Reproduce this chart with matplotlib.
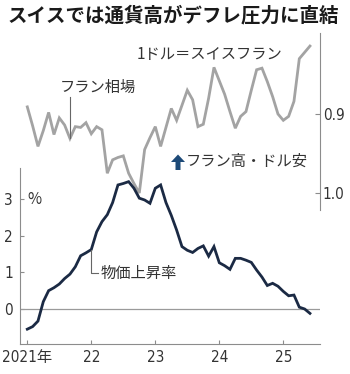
import matplotlib.pyplot as plt
import numpy as np
from matplotlib.patches import Polygon

plt.rcParams['font.family'] = ['Noto Sans CJK JP', 'DejaVu Sans']

W, H = 350, 374

# monthly, starting Jan 2021
cpi = [-0.55, -0.48, -0.33, 0.2, 0.5, 0.58, 0.68, 0.83, 0.95, 1.15, 1.45, 1.53,
       1.62, 2.1, 2.38, 2.57, 2.9, 3.38, 3.42, 3.47, 3.29, 3.02, 2.97, 2.88,
       3.29, 3.38, 2.9, 2.55, 2.15, 1.7, 1.6, 1.54, 1.65, 1.72, 1.44, 1.7,
       1.26, 1.18, 1.08, 1.38, 1.38, 1.33, 1.27, 1.06, 0.87, 0.64, 0.7, 0.62,
       0.48, 0.36, 0.38, 0.05, 0.0, -0.12]
usdchf = [0.891, 0.915, 0.941, 0.921, 0.898, 0.926, 0.905, 0.914, 0.931, 0.916, 0.917, 0.911,
          0.925, 0.916, 0.920, 0.975, 0.958, 0.955, 0.953, 0.975, 0.988, 1.000, 0.945, 0.930,
          0.916, 0.941, 0.917, 0.893, 0.908, 0.889, 0.870, 0.882, 0.916, 0.913, 0.880, 0.841,
          0.858, 0.875, 0.897, 0.918, 0.903, 0.897, 0.870, 0.844, 0.842, 0.859, 0.878, 0.900,
          0.908, 0.903, 0.884, 0.830, 0.822, 0.814]
year_ticks = [2021, 2022, 2023, 2024, 2025]
year_labels = ['2021年', '22', '23', '24', '25']
cpi_ticks = [0, 1, 2, 3]
fx_ticks = [0.9, 1.0]

t = 2021 + np.arange(len(cpi)) / 12

NAVY = '#1b2a44'
GRAY = '#a3a3a3'
AXC = '#8c8c8c'
TXT = '#333333'
num_font = dict(family=['DejaVu Sans', 'Noto Sans CJK JP'], fontstretch='condensed',
                fontsize=11, color=TXT)


def box(left, top, right, bottom):
    return [left / W, 1 - bottom / H, (right - left) / W, (bottom - top) / H]


def fp(x, y):
    return x / W, 1 - y / H


fig = plt.figure(figsize=(W / 100, H / 100), dpi=100)
fig.patch.set_facecolor('white')

xlim = (2021 - 7.3 / 64, 2021 + 292.7 / 64)

# exchange rate, inverted scale on the right
ax2 = fig.add_axes(box(20, 33, 320, 210))
ax2.patch.set_alpha(0)
ax2.plot(t, usdchf, color=GRAY, lw=2.0, solid_joinstyle='miter')
ax2.set_xlim(xlim)
ax2.set_ylim(1.0215, 0.7975)
for s in ['left', 'top', 'bottom']:
    ax2.spines[s].set_visible(False)
ax2.spines['right'].set_color(AXC)
ax2.spines['right'].set_linewidth(0.8)
ax2.set_xticks([])
ax2.yaxis.tick_right()
ax2.set_yticks(fx_ticks)
ax2.set_yticklabels(['0.9', '1.0'], **num_font)
ax2.tick_params(axis='y', direction='in', length=3.5, width=0.8, color=AXC, pad=2)

# leader for the franc label
ax2.plot([t[8], t[8]], [usdchf[8], 0.8785], color='#666666', lw=0.8)

# inflation
ax = fig.add_axes(box(20, 168, 320, 344))
ax.patch.set_alpha(0)
ax.axhline(0, color='#9a9a9a', lw=0.9)
ax.plot(t, cpi, color=NAVY, lw=2.0, solid_joinstyle='miter')
ax.set_xlim(xlim)
ax.set_ylim(-0.954, 3.842)
for s in ['right', 'top']:
    ax.spines[s].set_visible(False)
for s in ['left', 'bottom']:
    ax.spines[s].set_color(AXC)
    ax.spines[s].set_linewidth(0.8)
ax.set_xticks(year_ticks)
ax.set_xticklabels(year_labels, **num_font)
ax.set_yticks(cpi_ticks)
ax.set_yticklabels([str(v) for v in cpi_ticks], **num_font)
ax.tick_params(direction='in', length=3, width=0.8, color=AXC)
ax.tick_params(axis='x', pad=4)
ax.tick_params(axis='y', pad=5)

# leader for the inflation label
ax.plot([t[12], t[12], t[12] + 0.1], [cpi[12], 0.98, 0.98], color='#666666', lw=0.8)

fig.text(*fp(8, 16), 'スイスでは通貨高がデフレ圧力に直結', fontsize=14, fontweight='bold',
         color='#1a1a1a', va='center', ha='left')
fig.text(*fp(137, 54), '1ドル＝スイスフラン', fontsize=11, color=TXT, va='center', ha='left')
fig.text(*fp(60, 87.5), 'フラン相場', fontsize=11, color=TXT, va='center', ha='left')
fig.text(*fp(186, 161), 'フラン高・ドル安', fontsize=11, color=TXT, va='center', ha='left')
fig.text(*fp(101, 273), '物価上昇率', fontsize=11, color=TXT, va='center', ha='left')
fig.text(*fp(27, 199), '%', fontsize=11, color=TXT, va='center', ha='left')

arrow = [(178, 154.5), (185, 162), (180.5, 162), (180.5, 170),
         (175.5, 170), (175.5, 162), (171, 162)]
fig.patches.append(Polygon([fp(x, y) for x, y in arrow], closed=True,
                           transform=fig.transFigure, facecolor='#1d4a78',
                           edgecolor='none'))

fig.savefig('out.png', dpi=100, facecolor='white')
